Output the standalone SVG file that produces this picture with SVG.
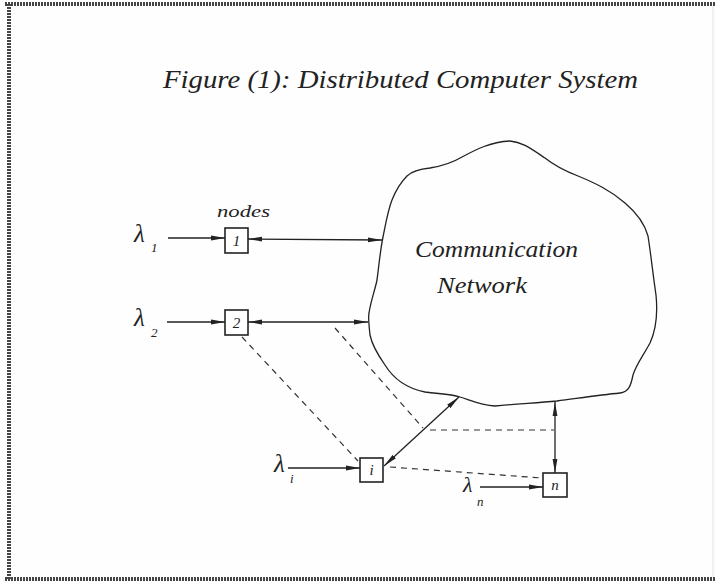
<svg xmlns="http://www.w3.org/2000/svg" width="716" height="583" viewBox="0 0 716 583">
<defs>
<marker id="ah" viewBox="0 0 14 6" refX="14" refY="3" markerWidth="14" markerHeight="6" markerUnits="userSpaceOnUse" orient="auto-start-reverse">
<path d="M0,0.6 L14,3 L0,5.4 Z" fill="#222"/>
</marker>
</defs>
<style>
.hand{font-family:"Liberation Serif","DejaVu Serif",serif;font-style:italic;fill:#222}
.box{fill:#fff;stroke:#222;stroke-width:1.6}
.ln{stroke:#222;stroke-width:1.3;fill:none}
.dash{stroke:#333;stroke-width:1.2;fill:none;stroke-dasharray:6 5}
.border{stroke:#444;stroke-width:4;fill:none;stroke-dasharray:2 1}
</style>
<rect width="716" height="583" fill="#fefefe"/>
<g id="frame">
<line class="border" x1="5" y1="4" x2="716" y2="4"/>
<line class="border" x1="9" y1="4" x2="9" y2="579"/>
<line class="border" x1="5" y1="579" x2="716" y2="579"/>
<line x1="713" y1="6" x2="713" y2="577" stroke="#e2e2e2" stroke-width="1"/>
</g>
<g id="title">
<text class="hand" x="163" y="88" font-size="25" textLength="475" lengthAdjust="spacingAndGlyphs">Figure (1):  Distributed Computer System</text>
</g>
<g id="network">
<path class="ln" stroke-width="1.6" d="M369,313 C371,300 375,290 377,280 C379,265 380,252 383,237 C386,222 388,210 392,200 C396,190 400,183 407,176 C412,171 420,169 430,168 C442,166 452,163 462,157 C475,150 490,142 510,141 C522,142 530,148 545,158 C555,166 565,171 578,176 C595,183 610,190 625,203 C638,214 645,225 648,236 C651,255 653,275 656,295 C658,315 656,330 650,343 C643,356 636,365 633,375 C631,385 629,392 620,393 C600,395 580,398 557,401 C535,403 515,404 495,406 C480,405 470,400 460,397 C450,394 440,394 425,392 C405,388 393,378 385,365 C378,355 372,345 370,335 C369,325 368,318 369,313 Z"/>
<text class="hand" x="415" y="257" font-size="23" textLength="163" lengthAdjust="spacingAndGlyphs">Communication</text>
<text class="hand" x="437" y="293" font-size="23" textLength="90" lengthAdjust="spacingAndGlyphs">Network</text>
</g>
<g id="node1">
<rect class="box" x="225" y="228" width="23" height="25"/>
<text class="hand" x="236.5" y="246" font-size="15" text-anchor="middle">1</text>
<text class="hand" x="217" y="217" font-size="17" textLength="53" lengthAdjust="spacingAndGlyphs">nodes</text>
<text class="hand" x="134" y="242" font-size="25">λ</text>
<text class="hand" x="151" y="252" font-size="13">1</text>
</g>
<g id="node2">
<rect class="box" x="225" y="310" width="23" height="25"/>
<text class="hand" x="236.5" y="328" font-size="15" text-anchor="middle">2</text>
<text class="hand" x="134" y="326" font-size="25">λ</text>
<text class="hand" x="151" y="337" font-size="13">2</text>
</g>
<g id="nodei">
<rect class="box" x="360" y="458" width="23" height="24"/>
<text class="hand" x="371.5" y="475" font-size="15" text-anchor="middle">i</text>
<text class="hand" x="274" y="472" font-size="25">λ</text>
<text class="hand" x="290" y="483" font-size="13">i</text>
</g>
<g id="noden">
<rect class="box" x="543" y="473" width="24" height="24"/>
<text class="hand" x="555" y="490" font-size="15" text-anchor="middle">n</text>
<text class="hand" x="463" y="492" font-size="22">λ</text>
<text class="hand" x="477" y="506" font-size="13">n</text>
</g>
<g id="connectors">
<line class="ln" x1="168" y1="238" x2="225" y2="238" marker-end="url(#ah)"/>
<line class="ln" x1="248" y1="239" x2="382" y2="240" marker-start="url(#ah)" marker-end="url(#ah)"/>
<line class="ln" x1="167" y1="322" x2="225" y2="322" marker-end="url(#ah)"/>
<line class="ln" x1="248" y1="322" x2="368" y2="322" marker-start="url(#ah)" marker-end="url(#ah)"/>
<line class="ln" x1="288" y1="468" x2="360" y2="468" marker-end="url(#ah)"/>
<line class="ln" x1="480" y1="487" x2="543" y2="487" marker-end="url(#ah)"/>
<line class="ln" x1="384" y1="466" x2="459" y2="397" marker-start="url(#ah)" marker-end="url(#ah)"/>
<line class="ln" x1="555" y1="473" x2="555" y2="402" marker-start="url(#ah)" marker-end="url(#ah)"/>
<line class="dash" x1="242" y1="337" x2="358" y2="461"/>
<line class="dash" x1="335" y1="328" x2="423" y2="428"/>
<line class="dash" x1="430" y1="430" x2="554" y2="430"/>
<line class="dash" x1="390" y1="467" x2="542" y2="478"/>
</g>
</svg>
